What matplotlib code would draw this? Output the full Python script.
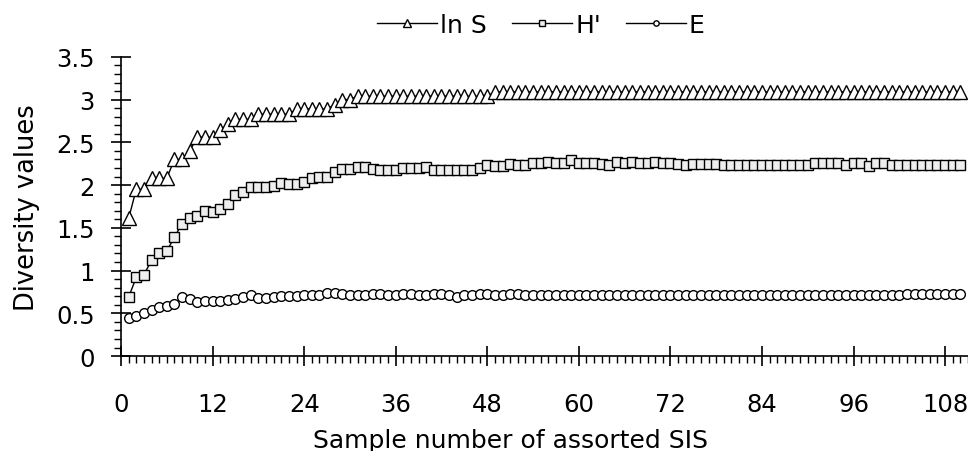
import matplotlib
matplotlib.use("Agg")
import matplotlib.pyplot as plt
from matplotlib.ticker import MultipleLocator

plt.rcParams['font.family'] = ['DejaVu Sans']

# sample numbers 1..110
samples = list(range(1, 111))

# ln S (richness, log)
ln_s = [1.61, 1.95, 1.95, 2.08, 2.08, 2.08, 2.30, 2.30, 2.40, 2.56,
        2.56, 2.56, 2.64, 2.71, 2.77, 2.77, 2.77, 2.83, 2.83, 2.83,
        2.83, 2.83, 2.89, 2.89, 2.89, 2.89, 2.89, 2.94, 3.00, 3.00,
        3.04, 3.04, 3.04, 3.04, 3.04, 3.04, 3.04, 3.04, 3.04, 3.04,
        3.04, 3.04, 3.04, 3.04, 3.04, 3.04, 3.04, 3.04, 3.09, 3.09,
        3.09, 3.09, 3.09, 3.09, 3.09, 3.09, 3.09, 3.09, 3.09, 3.09,
        3.09, 3.09, 3.09, 3.09, 3.09, 3.09, 3.09, 3.09, 3.09, 3.09,
        3.09, 3.09, 3.09, 3.09, 3.09, 3.09, 3.09, 3.09, 3.09, 3.09,
        3.09, 3.09, 3.09, 3.09, 3.09, 3.09, 3.09, 3.09, 3.09, 3.09,
        3.09, 3.09, 3.09, 3.09, 3.09, 3.09, 3.09, 3.09, 3.09, 3.09,
        3.09, 3.09, 3.09, 3.09, 3.09, 3.09, 3.09, 3.09, 3.09, 3.09]

# H' (Shannon)
h_prime = [0.69, 0.92, 0.95, 1.12, 1.21, 1.23, 1.39, 1.55, 1.62, 1.64,
           1.70, 1.68, 1.72, 1.78, 1.88, 1.92, 1.98, 1.98, 1.98, 1.99,
           2.03, 2.01, 2.01, 2.04, 2.08, 2.09, 2.10, 2.15, 2.19, 2.19,
           2.21, 2.21, 2.19, 2.18, 2.18, 2.18, 2.20, 2.20, 2.20, 2.21,
           2.18, 2.18, 2.18, 2.18, 2.18, 2.18, 2.20, 2.24, 2.22, 2.22,
           2.25, 2.24, 2.24, 2.26, 2.26, 2.27, 2.26, 2.26, 2.29, 2.26,
           2.26, 2.26, 2.25, 2.24, 2.27, 2.26, 2.27, 2.26, 2.26, 2.27,
           2.26, 2.26, 2.25, 2.24, 2.25, 2.25, 2.25, 2.25, 2.24, 2.24,
           2.24, 2.24, 2.24, 2.24, 2.24, 2.24, 2.24, 2.24, 2.24, 2.24,
           2.26, 2.26, 2.26, 2.26, 2.24, 2.26, 2.26, 2.22, 2.26, 2.26,
           2.24, 2.24, 2.24, 2.24, 2.24, 2.24, 2.24, 2.24, 2.24, 2.24]

# E (evenness)
evenness = [0.44, 0.47, 0.50, 0.54, 0.57, 0.59, 0.61, 0.69, 0.67, 0.63,
            0.65, 0.65, 0.65, 0.66, 0.67, 0.69, 0.71, 0.68, 0.68, 0.69,
            0.70, 0.70, 0.70, 0.71, 0.72, 0.72, 0.74, 0.74, 0.73, 0.72,
            0.72, 0.72, 0.73, 0.73, 0.72, 0.72, 0.73, 0.73, 0.72, 0.72,
            0.73, 0.73, 0.72, 0.69, 0.72, 0.72, 0.73, 0.73, 0.72, 0.72,
            0.73, 0.73, 0.72, 0.72, 0.72, 0.72, 0.72, 0.72, 0.72, 0.72,
            0.72, 0.72, 0.72, 0.72, 0.72, 0.72, 0.72, 0.72, 0.72, 0.72,
            0.72, 0.72, 0.72, 0.72, 0.72, 0.72, 0.72, 0.72, 0.72, 0.72,
            0.72, 0.72, 0.72, 0.72, 0.72, 0.72, 0.72, 0.72, 0.72, 0.72,
            0.72, 0.72, 0.72, 0.72, 0.72, 0.72, 0.72, 0.72, 0.72, 0.72,
            0.72, 0.72, 0.73, 0.73, 0.73, 0.73, 0.73, 0.73, 0.73, 0.73]

fig = plt.figure(figsize=(9.68, 4.52), dpi=100)
ax = fig.add_axes([0.125, 0.21, 0.875, 0.662])

ax.plot(samples, ln_s, '-', color='black', lw=1, marker='^', ms=9.5,
        mfc='white', mec='black', mew=1, label='ln S', clip_on=False)
ax.plot(samples, h_prime, '-', color='black', lw=1, marker='s', ms=7,
        mfc='#eeeeee', mec='black', mew=1, label="H'", clip_on=False)
ax.plot(samples, evenness, '-', color='black', lw=1, marker='o', ms=7,
        mfc='white', mec='black', mew=1, label='E', clip_on=False)

ax.set_xlim(0, 111)
ax.set_ylim(0, 3.5)
ax.xaxis.set_major_locator(MultipleLocator(12))
ax.xaxis.set_minor_locator(MultipleLocator(1))
ax.yaxis.set_major_locator(MultipleLocator(0.5))
ax.yaxis.set_minor_locator(MultipleLocator(0.1))
ax.yaxis.set_major_formatter(plt.FuncFormatter(lambda v, p: f'{v:g}'))

for s in ['top', 'right']:
    ax.spines[s].set_visible(False)
for s in ['left', 'bottom']:
    ax.spines[s].set_linewidth(1.2)

ax.tick_params(axis='both', which='major', direction='inout', length=14,
               width=1.2, labelsize=17.5)
ax.tick_params(axis='x', which='major', pad=19)
ax.tick_params(axis='y', which='major', pad=12)
ax.tick_params(axis='both', which='minor', direction='out', length=5, width=1)

ax.set_xlabel('Sample number of assorted SIS', fontsize=18)
ax.xaxis.set_label_coords(0.46, -0.24)
ax.set_ylabel('Diversity values', fontsize=18.5)
ax.yaxis.set_label_coords(-0.096, 0.5)

fig.legend(loc='center', bbox_to_anchor=(0.559, 0.942), ncol=3, frameon=False,
           fontsize=18, handlelength=2.4, markerscale=0.55, columnspacing=1.0,
           handletextpad=0.12)

fig.savefig('out.png', dpi=100)
